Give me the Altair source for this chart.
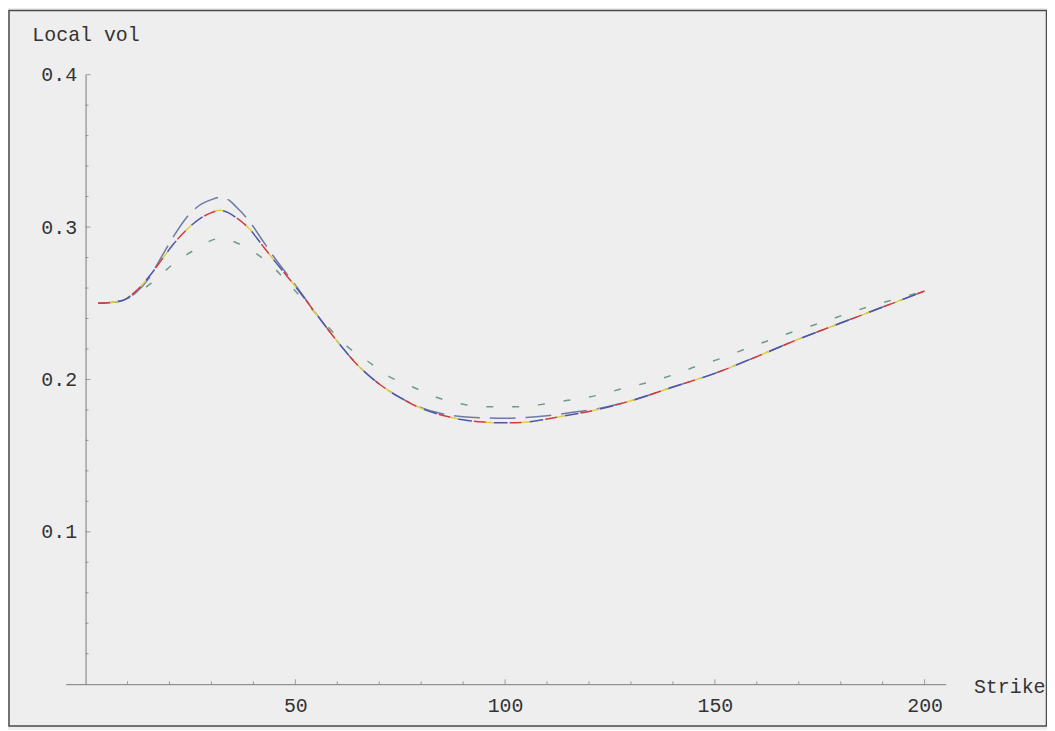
import altair as alt
import pandas as pd

# ---- data ----
strike_main = [3, 6, 9, 12, 15, 18, 21, 24, 27, 30, 32, 34, 36, 39, 42, 45, 50, 55, 60, 65,
               70, 75, 80, 85, 90, 95, 100, 105, 110, 115, 120, 130, 140, 150, 160, 170, 180, 190, 200]
vol_main = [0.250, 0.2505, 0.252, 0.258, 0.267, 0.278, 0.289, 0.298, 0.305, 0.3095,
            0.311, 0.3095, 0.306, 0.299, 0.2885, 0.278, 0.261, 0.243, 0.225, 0.209,
            0.197, 0.188, 0.181, 0.1765, 0.1735, 0.172, 0.1715, 0.172, 0.174, 0.1765,
            0.179, 0.186, 0.195, 0.204, 0.215, 0.2265, 0.237, 0.2475, 0.258]
vol_long = [0.250, 0.2505, 0.252, 0.257, 0.266, 0.280, 0.294, 0.306, 0.314, 0.318,
            0.3195, 0.318, 0.313, 0.304, 0.292, 0.280, 0.262, 0.243, 0.225, 0.209,
            0.197, 0.188, 0.1815, 0.1775, 0.1755, 0.1748, 0.1745, 0.175, 0.1762, 0.178,
            0.1798, 0.186, 0.195, 0.204, 0.215, 0.2265, 0.237, 0.2475, 0.258]
strike_green = [3, 6, 9, 12, 16, 21, 26, 32, 38, 44, 50, 57, 62, 67, 72, 78, 84, 90, 96, 102,
                109, 115, 122, 128, 134, 140, 146, 152, 158, 164, 170, 176, 182, 188, 194, 198]
vol_green = [0.250, 0.2505, 0.252, 0.256, 0.264, 0.276, 0.285, 0.2925, 0.287, 0.2755,
             0.258, 0.237, 0.2225, 0.2125, 0.2025, 0.195, 0.188, 0.1837, 0.182, 0.182,
             0.1837, 0.1863, 0.1896, 0.194, 0.198, 0.203, 0.209, 0.2143, 0.2208, 0.2267,
             0.2326, 0.2378, 0.2436, 0.2489, 0.2534, 0.2565]

x_labels = [50, 100, 150, 200]
y_labels = [0.1, 0.2, 0.3, 0.4]
x_minor = [10, 20, 30, 40, 60, 70, 80, 90, 110, 120, 130, 140, 160, 170, 180, 190]
y_minor = [0.02, 0.04, 0.06, 0.08, 0.12, 0.14, 0.16, 0.18, 0.22, 0.24, 0.26, 0.28,
           0.32, 0.34, 0.36, 0.38]

FONT = "Liberation Mono"
FS = 20
TXT = "#333333"
AX = "#7a7a7a"

xs = alt.Scale(domain=[-4.74, 205], nice=False, zero=False)
ys = alt.Scale(domain=[0, 0.4], nice=False, zero=False)

main_df = pd.DataFrame({"strike": strike_main, "vol": vol_main})
long_df = pd.DataFrame({"strike": strike_main, "vol": vol_long})
green_df = pd.DataFrame({"strike": strike_green, "vol": vol_green})

xenc = alt.X("strike:Q", scale=xs,
             axis=alt.Axis(values=x_labels, ticks=False, grid=False, domainColor=AX,
                           domainWidth=1, labelFont=FONT, labelFontSize=FS, labelColor=TXT,
                           labelPadding=11, title="Strike", titleFont=FONT, titleFontSize=FS,
                           titleFontWeight="normal", titleColor=TXT, titleX=913, titleY=2,
                           titleAlign="left", titleBaseline="middle"))
yenc = alt.Y("vol:Q", scale=ys,
             axis=alt.Axis(values=y_labels, format=".1f", ticks=False, grid=False, offset=-20,
                           domainColor=AX, domainWidth=1, labelFont=FONT, labelFontSize=FS,
                           labelColor=TXT, labelPadding=9, title="Local vol", titleFont=FONT,
                           titleFontSize=FS, titleFontWeight="normal", titleColor=TXT,
                           titleAngle=0, titleX=-54, titleY=-40, titleAlign="left",
                           titleBaseline="middle"))


def line(df, color, dash, offset=0, width=1.5):
    return alt.Chart(df).mark_line(color=color, strokeDash=dash, strokeDashOffset=offset,
                                   strokeWidth=width, interpolate="monotone").encode(
        x=alt.X("strike:Q", scale=xs), y=alt.Y("vol:Q", scale=ys))


base = alt.Chart(main_df).mark_line(opacity=0).encode(x=xenc, y=yenc)

green = line(green_df, "#6f9c88", [7, 19])
slate = line(long_df, "#6d7ba6", [26, 10])
red = line(main_df, "#d23c3c", [12, 24], 0)
yellow = line(main_df, "#ddd23e", [8, 28], -12)
navy = line(main_df, "#5256a8", [14, 22], -20)

xt_major = pd.DataFrame({"strike": x_labels, "vol": [0.0] * len(x_labels)})
xt_minor = pd.DataFrame({"strike": x_minor, "vol": [0.0] * len(x_minor)})
yt_major = pd.DataFrame({"strike": [0.0] * len(y_labels), "vol": y_labels})
yt_minor = pd.DataFrame({"strike": [0.0] * len(y_minor), "vol": y_minor})


def ticks(df, orient, size, off):
    kw = {"yOffset": -off} if orient == "vertical" else {"xOffset": off}
    return alt.Chart(df).mark_tick(orient=orient, size=size, thickness=1, color=AX, **kw).encode(
        x=alt.X("strike:Q", scale=xs), y=alt.Y("vol:Q", scale=ys))


tk = (ticks(xt_major, "vertical", 5, 2.5) + ticks(xt_minor, "vertical", 3, 1.5) +
      ticks(yt_major, "horizontal", 5, 2.5) + ticks(yt_minor, "horizontal", 3, 1.5))

frame = alt.Chart(alt.Data(values=[{"a": 1}])).mark_rect(
    fillOpacity=0, stroke="#4a4a4a", strokeWidth=1.5).encode(
    x=alt.value(-57), x2=alt.value(986.5), y=alt.value(-64.5), y2=alt.value(655))

chart = alt.layer(base, tk, green, slate, navy, yellow, red, frame).properties(
    width=885, height=613,
    padding={"left": 58, "top": 65, "right": 102, "bottom": 44},
    autosize=alt.AutoSizeParams(type="none"),
).configure(background="#eeeeee").configure_view(stroke=None)

chart.save("out.html", embed_options={"renderer": "svg", "actions": False})
